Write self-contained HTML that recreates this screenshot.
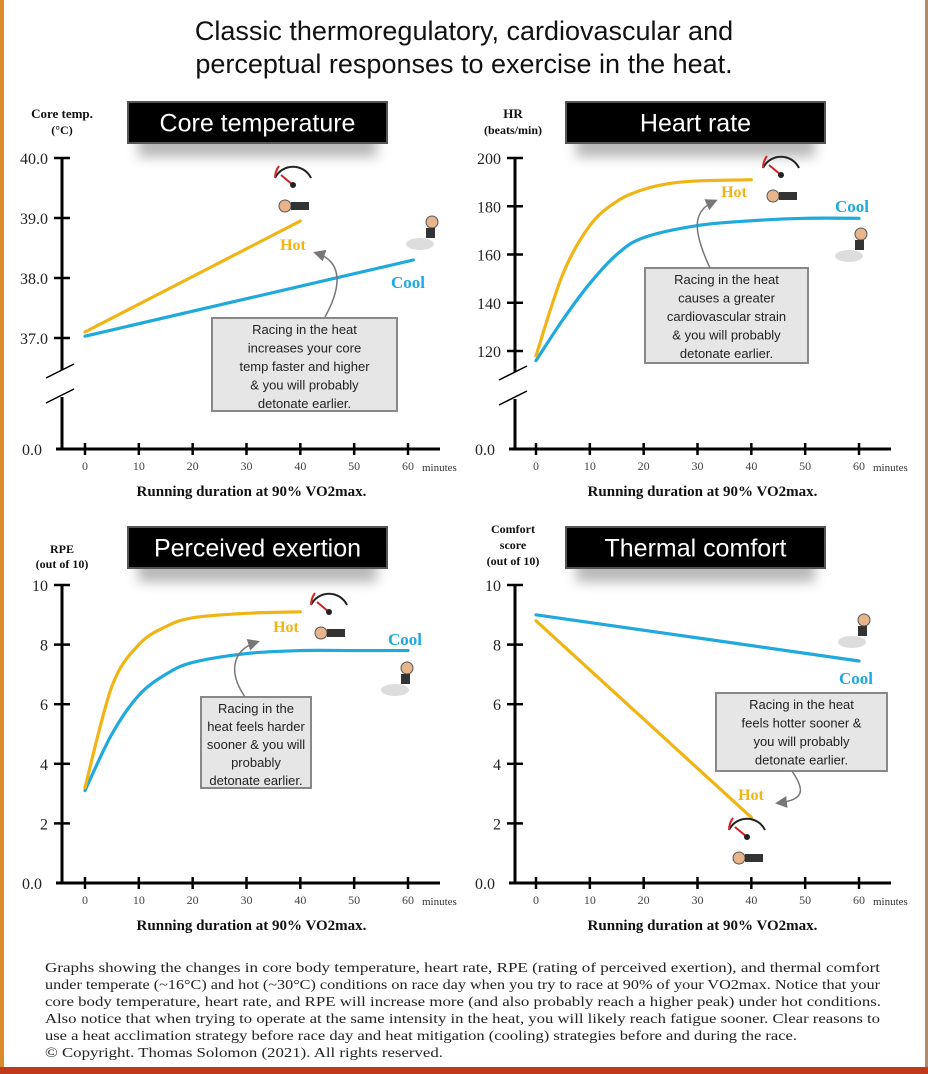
<!DOCTYPE html>
<html><head><meta charset="utf-8"><style>
html,body{margin:0;padding:0;background:#fff;}
svg{display:block;}
</style></head><body>
<svg id="s" width="928" height="1074" viewBox="0 0 928 1074" xmlns="http://www.w3.org/2000/svg">
<defs>
<filter id="sh" x="-20%" y="-50%" width="140%" height="220%"><feGaussianBlur stdDeviation="6"/></filter>
<marker id="ah" markerWidth="8" markerHeight="8" refX="6" refY="4" orient="auto"><path d="M0,0 L8,4 L0,8 Z" fill="#777"/></marker>
</defs>
<rect x="0" y="0" width="928" height="1074" fill="#fff"/>
<rect x="0" y="0" width="4" height="1074" fill="#d98a2a"/>
<rect x="925" y="0" width="3" height="1074" fill="#b48a6a"/>
<rect x="0" y="1067" width="928" height="7" fill="#c0391b"/>
<text x="464" y="40" text-anchor="middle" font-family="Liberation Sans, sans-serif" font-size="27" fill="#111">Classic thermoregulatory, cardiovascular and</text>
<text x="464" y="73" text-anchor="middle" font-family="Liberation Sans, sans-serif" font-size="27" fill="#111">perceptual responses to exercise in the heat.</text>
<g id="charts"></g>
<g font-family="Liberation Serif, serif" font-size="13.5" fill="#222">
<text x="45" y="972" textLength="835" lengthAdjust="spacingAndGlyphs">Graphs showing the changes in core body temperature, heart rate, RPE (rating of perceived exertion), and thermal comfort</text>
<text x="45" y="989" textLength="835" lengthAdjust="spacingAndGlyphs">under temperate (~16°C) and hot (~30°C) conditions on race day when you try to race at 90% of your VO2max. Notice that your</text>
<text x="45" y="1006" textLength="836" lengthAdjust="spacingAndGlyphs">core body temperature, heart rate, and RPE will increase more (and also probably reach a higher peak) under hot conditions.</text>
<text x="45" y="1023" textLength="835" lengthAdjust="spacingAndGlyphs">Also notice that when trying to operate at the same intensity in the heat, you will likely reach fatigue sooner. Clear reasons to</text>
<text x="45" y="1040" textLength="752" lengthAdjust="spacingAndGlyphs">use a heat acclimation strategy before race day and heat mitigation (cooling) strategies before and during the race.</text>
<text x="45" y="1057" textLength="398" lengthAdjust="spacingAndGlyphs">© Copyright. Thomas Solomon (2021). All rights reserved.</text>
</g>
</svg>
<script>
// ---- data ----
const minutesTicks = [0,10,20,30,40,50,60];
const coreTicks = [37.0,38.0,39.0,40.0];
const coreHotX = [0,40];
const coreHotY = [37.1,38.95];
const coreCoolX = [0,61];
const coreCoolY = [37.03,38.3];
const hrTicks = [120,140,160,180,200];
const hrHotX = [0,5,10,15,20,25,30,40];
const hrHotY = [118,152,172,182,187,189.5,190.5,191];
const hrCoolX = [0,5,10,15,20,30,40,50,60];
const hrCoolY = [116,133,148,160,167,172,174,175,175];
const rpeTicks = [2,4,6,8,10];
const rpeHotX = [0,5,10,15,20,30,40];
const rpeHotY = [3.2,6.6,8.0,8.6,8.9,9.05,9.1];
const rpeCoolX = [0,5,10,15,20,30,40,50,60];
const rpeCoolY = [3.1,5.0,6.3,7.0,7.4,7.7,7.8,7.8,7.8];
const comfTicks = [2,4,6,8,10];
const comfHotX = [0,40];
const comfHotY = [8.8,2.2];
const comfCoolX = [0,60];
const comfCoolY = [9.0,7.45];

const NS='http://www.w3.org/2000/svg';
const root=document.getElementById('charts');
function mk(tag,attrs,parent,txt){const e=document.createElementNS(NS,tag);for(const k in attrs)e.setAttribute(k,attrs[k]);if(txt!==undefined)e.textContent=txt;(parent||root).appendChild(e);return e;}
function smooth(pts){let d='M'+pts[0][0]+','+pts[0][1];for(let i=0;i<pts.length-1;i++){const p0=pts[i-1]||pts[i],p1=pts[i],p2=pts[i+1],p3=pts[i+2]||p2;const c1x=p1[0]+(p2[0]-p0[0])/6,c1y=p1[1]+(p2[1]-p0[1])/6,c2x=p2[0]-(p3[0]-p1[0])/6,c2y=p2[1]-(p3[1]-p1[1])/6;d+=' C'+c1x+','+c1y+' '+c2x+','+c2y+' '+p2[0]+','+p2[1];}return d;}

function chart(c){
  const g=mk('g',{});
  
  
  const sx=m=>c.x0+m*(c.x60-c.x0)/60;
  const sy=v=>c.ytop+(c.vtop-v)*(c.ybot-c.ytop)/(c.vtop-c.vbot);
  mk('rect',{x:c.tb[0]+10,y:c.tb[1]+14,width:c.tb[2]-20,height:c.tb[3],fill:'#888',opacity:0.6,filter:'url(#sh)'},g);
  const tb=mk('rect',{x:c.tb[0],y:c.tb[1],width:c.tb[2],height:c.tb[3],fill:'#000',stroke:'#555','stroke-width':2},g);
  
  
  const tt=mk('text',{x:c.tb[0]+c.tb[2]/2,y:c.tb[1]+c.tb[3]/2+9,'text-anchor':'middle','font-family':'Liberation Sans, sans-serif','font-size':25,fill:'#fff'},g,c.title);
  
  
  c.ylab.forEach((l,i)=>{const t=mk('text',{x:c.ylx,y:c.yly+i*c.ylh,'text-anchor':'middle','font-family':'Liberation Serif, serif','font-weight':'bold','font-size':i==0&&c.ylbig?13:12,fill:'#111'},g,l);
    
    });
  const ax=c.ax, bot=c.ybase;
  if(c.brk){
    mk('line',{x1:ax,y1:c.ytop-0,x2:ax,y2:c.brk[0],stroke:'#000','stroke-width':3},g);
    mk('line',{x1:ax-16,y1:c.brk[0]+8,x2:ax+12,y2:c.brk[0]-6,stroke:'#000','stroke-width':1.5},g);
    mk('line',{x1:ax-16,y1:c.brk[1]+8,x2:ax+12,y2:c.brk[1]-6,stroke:'#000','stroke-width':1.5},g);
    mk('line',{x1:ax,y1:c.brk[1]+2,x2:ax,y2:bot,stroke:'#000','stroke-width':3},g);
  } else mk('line',{x1:ax,y1:c.ytop,x2:ax,y2:bot,stroke:'#000','stroke-width':3},g);
  const xl=mk('line',{x1:ax-6,y1:bot,x2:c.x60+32,y2:bot,stroke:'#000','stroke-width':3},g);
  
  
  c.ticks.forEach(v=>{const y=sy(v);mk('line',{x1:ax-8,y1:y,x2:ax+8,y2:y,stroke:'#000','stroke-width':2.5},g);
    const t=mk('text',{x:ax-14,y:y+6,'text-anchor':'end','font-family':'Liberation Serif, serif','font-size':16,fill:'#222'},g,c.fmt(v));
    
    });
  const z=mk('text',{x:ax-20,y:bot+6,'text-anchor':'end','font-family':'Liberation Serif, serif','font-size':16,fill:'#222'},g,'0.0');
  
  
  minutesTicks.forEach(m=>{const x=sx(m);mk('line',{x1:x,y1:bot-6,x2:x,y2:bot+6,stroke:'#000','stroke-width':2.5},g);
    const t=mk('text',{x:x,y:bot+21,'text-anchor':'middle','font-family':'Liberation Serif, serif','font-size':12,fill:'#444'},g,m);
    
    });
  const mn=mk('text',{x:sx(60)+14,y:bot+22,'font-family':'Liberation Serif, serif','font-size':11,fill:'#333'},g,'minutes');
  
  
  const xt=mk('text',{x:(c.x0+c.x60)/2+5,y:bot+47,'text-anchor':'middle','font-family':'Liberation Serif, serif','font-weight':'bold','font-size':15,fill:'#111'},g,'Running duration at 90% VO2max.');
  
  
  [[c.coolX,c.coolY,'#1fa9dc','cool-line'],[c.hotX,c.hotY,'#f0b414','hot-line']].forEach(s=>{
    const pts=s[0].map((m,i)=>[sx(m),sy(s[1][i])]);
    const p=mk('path',{d:smooth(pts),fill:'none',stroke:s[2],'stroke-width':3.2,'stroke-linecap':'round'},g);
    
    
  });
  const h=mk('text',{x:c.hotL[0],y:c.hotL[1],'text-anchor':'middle','font-family':'Liberation Serif, serif','font-weight':'bold','font-size':16,fill:'#f0b414'},g,'Hot');
  
  
  const cl=mk('text',{x:c.coolL[0],y:c.coolL[1],'text-anchor':'middle','font-family':'Liberation Serif, serif','font-weight':'bold','font-size':17,fill:'#1fa9dc'},g,'Cool');
  
  
  const gx=c.gauge[0],gy=c.gauge[1];
  mk('path',{d:`M${gx-18},${gy+10} A20,20 0 0 1 ${gx+18},${gy+10}`,fill:'none',stroke:'#222','stroke-width':2},g);
  mk('path',{d:`M${gx-18},${gy+10} A20,20 0 0 1 ${gx-14},${gy-2}`,fill:'none',stroke:'#d22','stroke-width':2},g);
  mk('line',{x1:gx,y1:gy+17,x2:gx-12,y2:gy+7,stroke:'#c22','stroke-width':2},g);
  mk('circle',{cx:gx,cy:gy+17,r:3,fill:'#222'},g);
  mk('ellipse',{cx:gx-8,cy:gy+38,rx:6,ry:6,fill:'#e8b48a',stroke:'#555','stroke-width':1},g);
  mk('rect',{x:gx-2,y:gy+34,width:18,height:8,fill:'#333'},g);
  const rx=c.runner[0],ry=c.runner[1];
  mk('ellipse',{cx:rx-8,cy:ry+22,rx:14,ry:6,fill:'#ddd'},g);
  mk('circle',{cx:rx+4,cy:ry,r:6,fill:'#e8b48a',stroke:'#555','stroke-width':1},g);
  mk('rect',{x:rx-2,y:ry+6,width:9,height:10,fill:'#333'},g);
  const cb=c.box;
  const r=mk('rect',{x:cb[0],y:cb[1],width:cb[2],height:cb[3],fill:'#e6e6e6',stroke:'#888','stroke-width':2},g);
  
  
  c.lines.forEach((l,i)=>{const t=mk('text',{x:cb[0]+cb[2]/2,y:cb[1]+16+i*c.lh,'text-anchor':'middle','font-family':'Liberation Sans, sans-serif','font-size':13,fill:'#222'},g,l);
    
    
    const w=t.getComputedTextLength(); if(w>cb[2]-6){t.setAttribute('textLength',cb[2]-6);t.setAttribute('lengthAdjust','spacingAndGlyphs');}});
  const a=mk('path',{d:c.arrow,fill:'none',stroke:'#777','stroke-width':1.5,'marker-end':'url(#ah)'},g);
  
  
}

chart({name:'core-temperature-chart',title:'Core temperature',tb:[128,102,259,41],ylab:['Core temp.','(°C)'],ylx:62,yly:118,ylh:16,ylbig:true,
  ax:62,ytop:158,ybot:338,vtop:40,vbot:37,ybase:449,brk:[370,395],x0:85,x60:408,ticks:coreTicks,fmt:v=>v.toFixed(1),
  hotX:coreHotX,hotY:coreHotY,coolX:coreCoolX,coolY:coreCoolY,hotL:[293,250],coolL:[408,288],gauge:[293,168],runner:[428,222],
  box:[212,318,185,93],lh:18.5,lines:['Racing in the heat','increases your core','temp faster and higher','& you will probably','detonate earlier.'],
  arrow:'M325,317 C340,290 345,262 316,253'});
chart({name:'heart-rate-chart',title:'Heart rate',tb:[566,102,259,41],ylab:['HR','(beats/min)'],ylx:513,yly:118,ylh:16,ylbig:true,
  ax:515,ytop:158,ybot:351,vtop:200,vbot:120,ybase:449,brk:[372,397],x0:536,x60:859,ticks:hrTicks,fmt:v=>v,
  hotX:hrHotX,hotY:hrHotY,coolX:hrCoolX,coolY:hrCoolY,hotL:[734,197],coolL:[852,212],gauge:[781,158],runner:[857,234],
  box:[645,268,163,95],lh:18.5,lines:['Racing in the heat','causes a greater','cardiovascular strain','& you will probably','detonate earlier.'],
  arrow:'M710,268 C690,225 695,210 715,201'});
chart({name:'perceived-exertion-chart',title:'Perceived exertion',tb:[128,527,259,41],ylab:['RPE','(out of 10)'],ylx:62,yly:553,ylh:15,ylbig:false,
  ax:62,ytop:585,ybot:883,vtop:10,vbot:0,ybase:883,brk:null,x0:85,x60:408,ticks:rpeTicks,fmt:v=>v,
  hotX:rpeHotX,hotY:rpeHotY,coolX:rpeCoolX,coolY:rpeCoolY,hotL:[286,632],coolL:[405,645],gauge:[329,595],runner:[403,668],
  box:[201,697,110,91],lh:18,lines:['Racing in the','heat feels harder','sooner & you will','probably','detonate earlier.'],
  arrow:'M245,697 C228,672 232,650 257,642'});
chart({name:'thermal-comfort-chart',title:'Thermal comfort',tb:[566,527,259,41],ylab:['Comfort','score','(out of 10)'],ylx:513,yly:533,ylh:16,ylbig:false,
  ax:515,ytop:585,ybot:883,vtop:10,vbot:0,ybase:883,brk:null,x0:536,x60:859,ticks:comfTicks,fmt:v=>v,
  hotX:comfHotX,hotY:comfHotY,coolX:comfCoolX,coolY:comfCoolY,hotL:[751,800],coolL:[856,684],gauge:[747,820],runner:[860,620],
  box:[716,693,171,78],lh:18.5,lines:['Racing in the heat','feels hotter sooner &','you will probably','detonate earlier.'],
  arrow:'M792,771 C805,790 805,800 778,803'});
</script>
</body></html>
